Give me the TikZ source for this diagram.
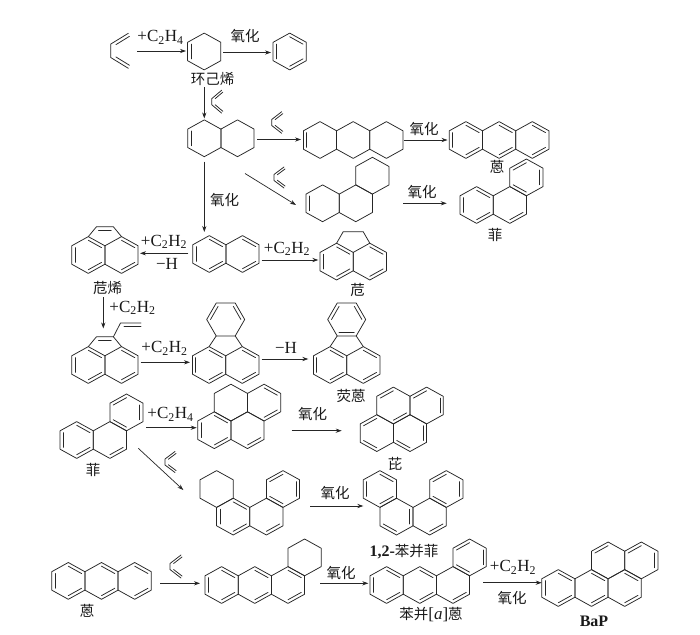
\documentclass[tikz,border=0pt]{standalone}
\usepackage{fontspec}
\setmainfont{Liberation Serif}
\newfontfamily\cjk{Noto Sans CJK SC}
\usetikzlibrary{arrows.meta}
\newcommand{\zh}[1]{{\cjk\fontsize{14.5}{16}\selectfont #1}}
% pointy-top hexagon, centre (#1,#2), y downwards
\newcommand{\hexr}[2]{\draw[bond] ({#1},{#2-18.4}) -- ({#1+16.6},{#2-9.2}) -- ({#1+16.6},{#2+9.2}) -- ({#1},{#2+18.4}) -- ({#1-16.6},{#2+9.2}) -- ({#1-16.6},{#2-9.2}) -- cycle;}
% inner double-bond lines on edges (0 = top->upper right, clockwise)
\newcommand{\dbs}[3]{\foreach \q in {#3}{\draw[bond] ({#1+15.33*cos(90-60*\q)},{#2-14.72*sin(90-60*\q)}) -- ({#1+15.33*cos(30-60*\q)},{#2-14.72*sin(30-60*\q)});}}
% flat-top hexagon
\newcommand{\fhex}[2]{\draw[bond] ({#1-9.5},{#2-16.45}) -- ({#1+9.5},{#2-16.45}) -- ({#1+19},{#2}) -- ({#1+9.5},{#2+16.45}) -- ({#1-9.5},{#2+16.45}) -- ({#1-19},{#2}) -- cycle;}
\newcommand{\fdbs}[3]{\foreach \q in {#3}{\draw[bond] ({#1+15.2*cos(120-60*\q)},{#2-15.2*sin(120-60*\q)}) -- ({#1+15.2*cos(60-60*\q)},{#2-15.2*sin(60-60*\q)});}}
% butadiene (s-cis): x0 y0 (middle of vertical bond), W, H, V, offset
\newcommand{\butad}[6]{%
 \pgfmathsetmacro{\bdD}{#4-#5/2}%
 \pgfmathsetmacro{\bdL}{sqrt((#3)*(#3)+\bdD*\bdD)}%
 \pgfmathsetmacro{\bdX}{#6*\bdD/\bdL}%
 \pgfmathsetmacro{\bdY}{#6*(#3)/\bdL}%
 \draw[bond] ({#1+#3},{#2-#4}) -- ({#1},{#2-#5/2}) -- ({#1},{#2+#5/2}) -- ({#1+#3},{#2+#4});
 \draw[bond] ({#1+0.2*#3+\bdX},{#2-#5/2-0.2*\bdD+\bdY}) -- ({#1+0.97*#3+\bdX},{#2-#5/2-0.97*\bdD+\bdY});
 \draw[bond] ({#1+0.2*#3+\bdX},{#2+#5/2+0.2*\bdD-\bdY}) -- ({#1+0.97*#3+\bdX},{#2+#5/2+0.97*\bdD-\bdY});
}
\begin{document}
\begin{tikzpicture}[x=1pt,y=-1pt,
  bond/.style={line width=0.75pt, line cap=round, line join=round, draw=black!85},
  arr/.style={line width=0.7pt, draw=black!85, -{Stealth[length=6pt,width=4.2pt]}},
  lab/.style={font=\fontsize{17}{18}\selectfont, inner sep=0pt, text=black!90}]
\useasboundingbox (0,0) rectangle (700,634);
\fill[white] (0,0) rectangle (700,634);

% ---------- Row 1 ----------
\butad{110.7}{50.8}{17.6}{17.5}{13.4}{3.2}
\hexr{204.2}{51.5} \dbs{204.2}{51.5}{4}
\hexr{289.7}{51.5} \dbs{289.7}{51.5}{0,2,4}
\coordinate (a1s) at (137,51); \coordinate (a1e) at (186,51);
\draw[arr] (a1s) -- (a1e);
\node[lab] (t1) at (160.5,37.5) {+C\textsubscript{2}H\textsubscript{4}};
\coordinate (a2s) at (223,52.5); \coordinate (a2e) at (271,52.5);
\draw[arr] (a2s) -- (a2e);
\node[lab] (t2) at (245,36) {\zh{氧化}};
\node[lab] (n1) at (212.5,79) {\zh{环己烯}};
\coordinate (a3s) at (204.3,87); \coordinate (a3e) at (204.3,118.5);
\draw[arr] (a3s) -- (a3e);
\butad{211.7}{101.7}{10}{11.5}{6}{2.2}

% ---------- Row 2 ----------
\hexr{204.3}{138.3} \hexr{237.5}{138.3} \dbs{204.3}{138.3}{4}
\coordinate (a4s) at (257,139.5); \coordinate (a4e) at (301,139.5);
\draw[arr] (a4s) -- (a4e);
\butad{271.7}{122.5}{10}{10.8}{6}{2.2}
\hexr{320}{140} \hexr{353.2}{140} \hexr{386.4}{140} \dbs{320}{140}{4}
\coordinate (a5s) at (404,140); \coordinate (a5e) at (447.5,140);
\draw[arr] (a5s) -- (a5e);
\node[lab] (t5) at (424,128.5) {\zh{氧化}};
\hexr{465.9}{140} \hexr{499.1}{140} \hexr{532.3}{140}
\dbs{465.9}{140}{4,0,2} \dbs{499.1}{140}{0,2} \dbs{532.3}{140}{0,2}
\node[lab] (n2) at (497,167) {\zh{蒽}};
\coordinate (a6s) at (245,173.5); \coordinate (a6e) at (296,205);
\draw[arr] (a6s) -- (a6e);
\butad{274}{177.5}{10}{10.5}{6}{2.2}
\hexr{322.6}{203.3} \hexr{355.8}{203.3} \hexr{372.4}{175.7} \dbs{322.6}{203.3}{4}
\coordinate (a7s) at (403,203.3); \coordinate (a7e) at (446.7,203.3);
\draw[arr] (a7s) -- (a7e);
\node[lab] (t7) at (422,191.5) {\zh{氧化}};
\hexr{476.6}{205} \hexr{509.8}{205} \hexr{526.4}{177.4}
\dbs{476.6}{205}{4,0,2} \dbs{509.8}{205}{2} \dbs{526.4}{177.4}{1,3,5}
\node[lab] (n3) at (495,234.5) {\zh{菲}};

% ---------- Row 3 ----------
\coordinate (a8s) at (204.3,161.5); \coordinate (a8e) at (204.3,232);
\draw[arr] (a8s) -- (a8e);
\node[lab] (t8) at (224.5,200) {\zh{氧化}};
\hexr{209.3}{254} \hexr{242.5}{254} \dbs{209.3}{254}{4,0,2} \dbs{242.5}{254}{0,2}
\coordinate (a9s) at (188.3,253.3); \coordinate (a9e) at (140,253.3);
\draw[arr] (a9s) -- (a9e);
\node[lab] (t9) at (164,242) {+C\textsubscript{2}H\textsubscript{2}};
\node[lab] (t9b) at (167,263.5) {−H};
% acenaphthylene
\hexr{88.3}{255} \hexr{121.5}{255} \dbs{88.3}{255}{4,0,2} \dbs{121.5}{255}{0,2}
\draw[bond] (88.3,236.6) -- (96.4,226.8) -- (113.4,226.8) -- (121.5,236.6);
\draw[bond] (98.6,230.2) -- (111.2,230.2);
\node[lab] (n4) at (107.5,288) {\zh{苊烯}};
\coordinate (a10s) at (261.7,260); \coordinate (a10e) at (318.3,260);
\draw[arr] (a10s) -- (a10e);
\node[lab] (t10) at (287,249) {+C\textsubscript{2}H\textsubscript{2}};
% acenaphthene
\hexr{336.6}{261.6} \hexr{369.8}{261.6} \dbs{336.6}{261.6}{4,0,2} \dbs{369.8}{261.6}{0,2}
\draw[bond] (336.6,243.2) -- (343.2,231.7) -- (363.2,231.7) -- (369.8,243.2);
\node[lab] (n5) at (357.5,290) {\zh{苊}};

% ---------- Row 4 ----------
\coordinate (a11s) at (103.3,297); \coordinate (a11e) at (103.3,328.5);
\draw[arr] (a11s) -- (a11e);
\node[lab] (t11) at (132.5,308) {+C\textsubscript{2}H\textsubscript{2}};
\hexr{88.3}{365} \hexr{121.5}{365} \dbs{88.3}{365}{4,0,2} \dbs{121.5}{365}{0,2}
\draw[bond] (88.3,346.6) -- (96.4,336.8) -- (113.4,336.8) -- (121.5,346.6);
\draw[bond] (98.6,340.2) -- (111.2,340.2);
\draw[bond] (113.4,336.8) -- (120.5,323) -- (141,323);
\draw[bond] (124,326.4) -- (141,326.4);
\coordinate (a12s) at (140.5,362.3); \coordinate (a12e) at (190,362.3);
\draw[arr] (a12s) -- (a12e);
\node[lab] (t12) at (164.5,348.5) {+C\textsubscript{2}H\textsubscript{2}};
% dihydro-fluoranthene
\hexr{209.1}{365} \hexr{242.3}{365} \dbs{209.1}{365}{4,0,2} \dbs{242.3}{365}{0,2}
\fhex{225.7}{319.5} \fdbs{225.7}{319.5}{5,1}
\draw[bond] (209.1,346.6) -- (216.2,335.95);
\draw[bond] (242.3,346.6) -- (235.2,335.95);
\coordinate (a13s) at (261.7,359); \coordinate (a13e) at (308.3,359);
\draw[arr] (a13s) -- (a13e);
\node[lab] (t13) at (286,348) {−H};
% fluoranthene
\hexr{330.1}{365} \hexr{363.3}{365} \dbs{330.1}{365}{4,0,2} \dbs{363.3}{365}{0,2}
\fhex{346.7}{319.5} \fdbs{346.7}{319.5}{5,1,3}
\draw[bond] (330.1,346.6) -- (337.2,335.95);
\draw[bond] (363.3,346.6) -- (356.2,335.95);
\node[lab] (n6) at (351,396) {\zh{荧蒽}};

% ---------- Row 5 ----------
\hexr{76.7}{440} \hexr{109.9}{440} \hexr{126.5}{412.4}
\dbs{76.7}{440}{4,0,2} \dbs{109.9}{440}{2} \dbs{126.5}{412.4}{1,3,5}
\node[lab] (n7) at (93,470) {\zh{菲}};
\coordinate (a14s) at (146,427.7); \coordinate (a14e) at (196.7,427.7);
\draw[arr] (a14s) -- (a14e);
\node[lab] (t14) at (170.5,414.5) {+C\textsubscript{2}H\textsubscript{4}};
\hexr{230.9}{402.6} \hexr{264.1}{402.6} \hexr{214.3}{430.2} \hexr{247.5}{430.2}
\dbs{214.3}{430.2}{4,0,2} \dbs{247.5}{430.2}{2} \dbs{264.1}{402.6}{0,2}
\coordinate (a15s) at (291.7,430.7); \coordinate (a15e) at (341.7,430.7);
\draw[arr] (a15s) -- (a15e);
\node[lab] (t15) at (312.5,414) {\zh{氧化}};
% pyrene
\hexr{393.4}{405.5} \hexr{426.6}{405.5} \hexr{376.8}{433.1} \hexr{410}{433.1}
\dbs{393.4}{405.5}{5,2} \dbs{426.6}{405.5}{5,1} \dbs{410}{433.1}{1,3} \dbs{376.8}{433.1}{3,5}
\node[lab] (n8) at (395,464) {\zh{芘}};

% ---------- Row 6 ----------
\coordinate (a16s) at (138.3,448.3); \coordinate (a16e) at (183.3,490);
\draw[arr] (a16s) -- (a16e);
\butad{165}{462}{10}{10.5}{6}{2.2}
\hexr{216.6}{489} \hexr{233.2}{516.6} \hexr{266.4}{516.6} \hexr{283}{489}
\dbs{233.2}{516.6}{4,0,2} \dbs{266.4}{516.6}{2} \dbs{283}{489}{1,3,5}
\coordinate (a17s) at (310,506); \coordinate (a17e) at (363.3,506);
\draw[arr] (a17s) -- (a17e);
\node[lab] (t17) at (335,492.5) {\zh{氧化}};
\hexr{379.9}{489} \hexr{396.5}{516.6} \hexr{429.7}{516.6} \hexr{446.3}{489}
\dbs{379.9}{489}{4,0,2} \dbs{396.5}{516.6}{1,3} \dbs{429.7}{516.6}{2} \dbs{446.3}{489}{1,3,5}
\node[lab] (n9) at (404,551.5) {{\fontsize{16}{18}\selectfont\bfseries 1,2-}\zh{苯并菲}};

% ---------- Row 7 ----------
\hexr{68.3}{580.9} \hexr{101.5}{580.9} \hexr{134.7}{580.9}
\dbs{68.3}{580.9}{4,0,2} \dbs{101.5}{580.9}{0,2} \dbs{134.7}{580.9}{0,2}
\node[lab] (n10) at (87,610.5) {\zh{蒽}};
\coordinate (a18s) at (160,583.3); \coordinate (a18e) at (200,583.3);
\draw[arr] (a18s) -- (a18e);
\butad{170}{566.5}{11}{11.5}{6}{2.2}
\hexr{221.6}{585} \hexr{254.8}{585} \hexr{288}{585} \hexr{304.6}{557.4}
\dbs{221.6}{585}{4,0,2} \dbs{254.8}{585}{0,2} \dbs{288}{585}{0,2}
\coordinate (a19s) at (320,583.3); \coordinate (a19e) at (368.3,583.3);
\draw[arr] (a19s) -- (a19e);
\node[lab] (t19) at (341,572.5) {\zh{氧化}};
\hexr{386.6}{585} \hexr{419.8}{585} \hexr{453}{585} \hexr{469.6}{557.4}
\dbs{386.6}{585}{4,0,2} \dbs{419.8}{585}{0,2} \dbs{453}{585}{2} \dbs{469.6}{557.4}{1,3,5}
\node[lab] (n11) at (431,615) {\zh{苯并}[\textit{a}]\zh{蒽}};
\coordinate (a20s) at (483.3,582.7); \coordinate (a20e) at (541.7,582.7);
\draw[arr] (a20s) -- (a20e);
\node[lab] (t20) at (513,567.5) {+C\textsubscript{2}H\textsubscript{2}};
\node[lab] (t20b) at (512,597.5) {\zh{氧化}};
% benzo[a]pyrene
\hexr{558.3}{588} \hexr{591.5}{588} \hexr{624.7}{588} \hexr{608.1}{560.4} \hexr{641.3}{560.4}
\dbs{558.3}{588}{4,0,2} \dbs{591.5}{588}{0,2} \dbs{624.7}{588}{0,2} \dbs{608.1}{560.4}{5} \dbs{641.3}{560.4}{5,1}
\node[lab] (n12) at (594,621) {\fontsize{16}{18}\selectfont\bfseries BaP};
\end{tikzpicture}
\end{document}
